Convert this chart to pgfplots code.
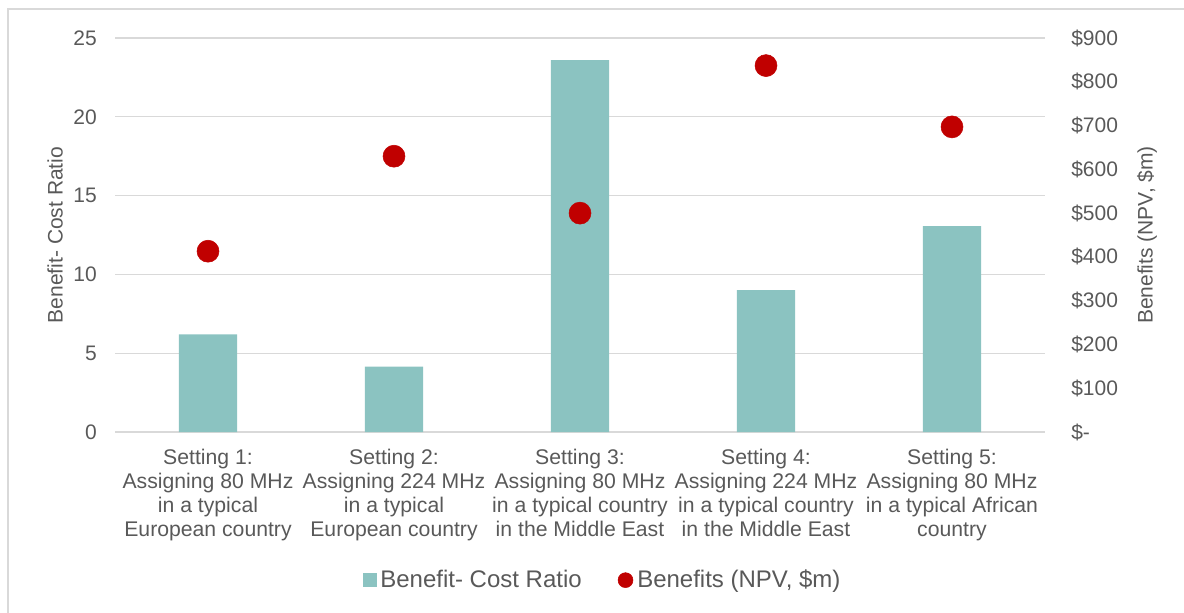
\documentclass[border=0pt]{standalone}
\usepackage{pgfplots}
\pgfplotsset{compat=1.18}
\usepackage{fontspec}
\setmainfont{Liberation Sans}
\definecolor{barc}{HTML}{8BC3C1}
\definecolor{dotc}{HTML}{C00000}
\definecolor{txt}{HTML}{595959}
\definecolor{gridc}{HTML}{D9D9D9}
\begin{document}
\fontsize{15.75}{17}\selectfont
\begin{tikzpicture}
\path[use as bounding box] (0pt,0pt) rectangle (888pt,459pt);
\draw[gridc, line width=1.5pt] (6pt,-2pt) -- (6pt,452.25pt) -- (890pt,452.25pt);
\begin{axis}[at={(86.25pt,135pt)}, anchor=south west, scale only axis,
  width=697.5pt, height=295.5pt,
  xmin=-0.5, xmax=4.5, ymin=0, ymax=25,
  axis line style={draw=none}, major tick length=0pt,
  ytick={0,5,...,25}, ymajorgrids, grid style={gridc, line width=1pt},
  xtick={0,1,2,3,4},
  xticklabels={{Setting 1:\\Assigning 80 MHz\\in a typical\\European country},
    {Setting 2:\\Assigning 224 MHz\\in a typical\\European country},
    {Setting 3:\\Assigning 80 MHz\\in a typical country\\in the Middle East},
    {Setting 4:\\Assigning 224 MHz\\in a typical country\\in the Middle East},
    {Setting 5:\\Assigning 80 MHz\\in a typical African\\country}},
  xticklabel style={align=center, inner sep=0pt, yshift=-13pt, text=txt, font=\fontsize{15.9}{17.8}\selectfont},
  yticklabel style={inner sep=0pt, xshift=-13.5pt, text=txt},
  /pgf/number format/assume math mode=true,
  ylabel={Benefit- Cost Ratio},
  ylabel style={at={(axis description cs:-0.0645,0.5)}, anchor=center, text=txt},
]
\addplot[ybar, bar width=0.312, fill=barc, draw=none] coordinates {(0,6.2) (1,4.15) (2,23.6) (3,9.0) (4,13.07)};
\end{axis}
\begin{axis}[at={(86.25pt,135pt)}, anchor=south west, scale only axis,
  width=697.5pt, height=295.5pt,
  xmin=-0.5, xmax=4.5, ymin=0, ymax=900,
  axis x line=none, axis y line*=right,
  axis line style={draw=none}, major tick length=0pt,
  ytick={0,100,...,900},
  yticklabels={\$-,\$100,\$200,\$300,\$400,\$500,\$600,\$700,\$800,\$900},
  yticklabel style={anchor=west, inner sep=0pt, xshift=19.5pt, text=txt},
  ylabel={Benefits (NPV, \$m)},
  ylabel style={at={(axis description cs:1.1097,0.5)}, anchor=center, text=txt},
  legend style={at={(axis description cs:0.5247,-0.376)}, anchor=center, draw=none, fill=none,
    legend columns=2, font=\fontsize{18}{20}\selectfont, text=txt,
    /tikz/every even column/.append style={column sep=25pt},
    /tikz/every odd column/.append style={column sep=1pt},
    cells={anchor=west}},
]
\addlegendimage{legend image code/.code={\fill[barc] (0pt,-4.875pt) rectangle (9.75pt,4.875pt);}}
\addlegendentry{Benefit- Cost Ratio}
\addplot[only marks, mark=*, mark size=8.25pt, color=dotc, fill=dotc,
  legend image code/.code={\fill[dotc] (5.6pt,0pt) circle (5.6pt);}]
  coordinates {(0,413) (1,630) (2,500) (3,837) (4,697)};
\addlegendentry{Benefits (NPV, \$m)}
\end{axis}
\end{tikzpicture}
\end{document}
